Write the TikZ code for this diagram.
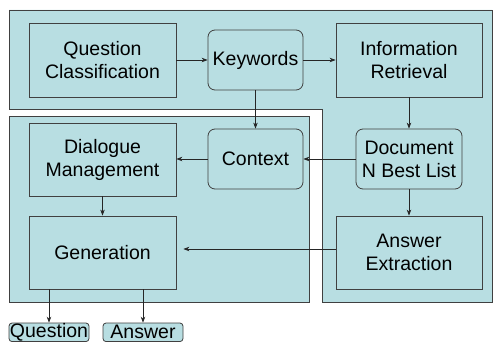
\documentclass[tikz,border=0pt]{standalone}
\usepackage{fontspec}
\setmainfont{Liberation Sans}
\usetikzlibrary{arrows.meta}
\definecolor{bgfill}{RGB}{184,222,226}
\definecolor{edgegray}{RGB}{64,64,64}
\begin{document}
\begin{tikzpicture}[x=1pt,y=-1pt,
  region/.style={fill=bgfill, draw=edgegray, line width=0.9pt},
  sqbox/.style={draw=edgegray, line width=0.8pt, fill=bgfill, align=center,
    font=\fontsize{19.5}{23}\selectfont, inner sep=0pt},
  rbox/.style={sqbox, rounded corners=7pt},
  tagbox/.style={sqbox, rounded corners=3pt},
  arr/.style={-{Stealth[length=6pt,width=4.5pt]}, line width=0.7pt, draw=black!85}
]
\useasboundingbox (0,0) rectangle (493,342);
% background regions
\draw[region] (9,10) -- (492,10) -- (492,302) -- (322,302) -- (322,109) -- (9,109) -- cycle;
\draw[region] (9,116) rectangle (309,302);
% nodes
\node[sqbox, minimum width=147pt, minimum height=74pt] (qc) at (102.5,60) {Question\\Classification};
\node[rbox, minimum width=95pt, minimum height=60pt] (kw) at (255.5,60) {Keywords};
\node[sqbox, minimum width=146pt, minimum height=74pt] (ir) at (409,60) {Information\\Retrieval};
\node[sqbox, minimum width=147pt, minimum height=73pt] (dm) at (102.5,159.5) {Dialogue\\Management};
\node[rbox, minimum width=95pt, minimum height=60pt] (ctx) at (255.5,159) {Context};
\node[rbox, minimum width=106pt, minimum height=60pt] (doc) at (409,159) {Document\\N Best List};
\node[sqbox, minimum width=147pt, minimum height=73pt] (gen) at (102.5,252.5) {Generation};
\node[sqbox, minimum width=146pt, minimum height=73pt] (ae) at (409,252.5) {Answer\\Extraction};
\node[tagbox, minimum width=80pt, minimum height=18.5pt] (q) at (49,332.3) {Question};
\node[tagbox, minimum width=80pt, minimum height=18.5pt] (a) at (143,332.3) {Answer};
% connectors
\draw[arr] (qc.east) -- (kw.west);
\draw[arr] (kw.east) -- (ir.west);
\draw[arr] (kw.south) -- (ctx.north);
\draw[arr] (ir.south) -- (doc.north);
\draw[arr] (doc.west) -- (ctx.east);
\draw[arr] (ctx.west) -- (dm.east |- ctx.west);
\draw[arr] (dm.south) -- (gen.north);
\draw[arr] (doc.south) -- (ae.north);
\draw[arr, shorten >=7pt] ([yshift=3.5pt]ae.west) -- ([yshift=3.5pt]gen.east |- ae.west);
\draw[arr] (q.north |- gen.south) -- (q.north);
\draw[arr] (a.north |- gen.south) -- (a.north);
\end{tikzpicture}
\end{document}
